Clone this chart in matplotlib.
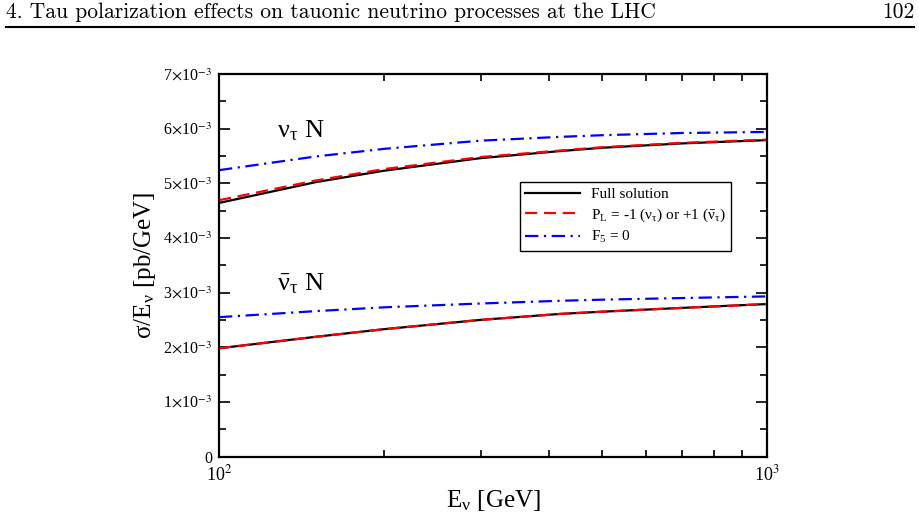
import matplotlib
matplotlib.use("Agg")
import matplotlib.pyplot as plt
from matplotlib.ticker import FixedLocator, FuncFormatter, MultipleLocator
import numpy as np

plt.rcParams['font.family'] = ['Liberation Serif', 'DejaVu Serif']
plt.rcParams['mathtext.fontset'] = 'stix'

energy = [100, 150, 200, 300, 420, 500, 700, 1000]
nu_full = [4.64e-3, 5.02e-3, 5.23e-3, 5.46e-3, 5.59e-3, 5.65e-3, 5.73e-3, 5.79e-3]
nu_pl = [4.69e-3, 5.05e-3, 5.26e-3, 5.48e-3, 5.60e-3, 5.66e-3, 5.74e-3, 5.80e-3]
nu_f5 = [5.24e-3, 5.49e-3, 5.63e-3, 5.78e-3, 5.85e-3, 5.88e-3, 5.92e-3, 5.94e-3]
nubar_full = [1.98e-3, 2.19e-3, 2.33e-3, 2.50e-3, 2.61e-3, 2.65e-3, 2.72e-3, 2.79e-3]
nubar_pl = [1.98e-3, 2.19e-3, 2.33e-3, 2.50e-3, 2.61e-3, 2.65e-3, 2.72e-3, 2.79e-3]
nubar_f5 = [2.55e-3, 2.66e-3, 2.73e-3, 2.80e-3, 2.85e-3, 2.87e-3, 2.90e-3, 2.93e-3]
ytick_vals = [0, 1e-3, 2e-3, 3e-3, 4e-3, 5e-3, 6e-3, 7e-3]

fig = plt.figure(figsize=(9.2, 5.16), dpi=100)
ax = fig.add_axes([0.238, 0.1153, 0.596, 0.7413])

lw = 1.6
red_dash = (5.5, 3)
blue_dash = (6, 2.5, 1, 2.5)
ax.plot(energy, nu_full, color='black', lw=lw, label='Full solution')
ax.plot(energy, nu_pl, color='#ff0000', lw=lw, dashes=red_dash,
        label=r'P$_\mathregular{L}$ = -1 (ν$_\mathregular{τ}$) or +1 ($\bar{\mathregular{ν}}_\mathregular{τ}$)')
ax.plot(energy, nu_f5, color='#0000ff', lw=lw, dashes=blue_dash, label=r'F$_\mathregular{5}$ = 0')
ax.plot(energy, nubar_full, color='black', lw=lw)
ax.plot(energy, nubar_pl, color='#ff0000', lw=lw, dashes=red_dash)
ax.plot(energy, nubar_f5, color='#0000ff', lw=lw, dashes=blue_dash)

ax.set_xscale('log')
ax.set_xlim(100, 1000)
ax.set_ylim(0, 7e-3)

ax.xaxis.set_major_locator(FixedLocator([100, 1000]))
ax.xaxis.set_minor_locator(FixedLocator([200, 300, 400, 500, 600, 700, 800, 900]))
ax.xaxis.set_major_formatter(FuncFormatter(lambda v, p: r'10$^{%d}$' % round(np.log10(v))))
ax.xaxis.set_minor_formatter(FuncFormatter(lambda v, p: ''))

ax.yaxis.set_major_locator(FixedLocator(ytick_vals))
ax.yaxis.set_minor_locator(MultipleLocator(0.5e-3))

def yfmt(v, p):
    n = int(round(v * 1e3))
    if n == 0:
        return '0'
    return r'%d$\times$10$^{-3}$' % n
ax.yaxis.set_major_formatter(FuncFormatter(yfmt))

ax.tick_params(which='both', direction='in', top=True, right=True, width=1.2)
ax.tick_params(axis='y', labelsize=11.5, pad=5)
ax.tick_params(axis='x', labelsize=13, pad=6)
ax.tick_params(which='major', length=8)
ax.tick_params(which='minor', length=5)
for s in ax.spines.values():
    s.set_linewidth(1.6)

ax.set_xlabel(r'E$_\mathregular{ν}$ [GeV]', fontsize=18, labelpad=2)
ax.set_ylabel(r'σ/E$_\mathregular{ν}$ [pb/GeV]', fontsize=18, labelpad=4)

ax.text(0.105, 0.835, r'ν$_\mathregular{τ}$ N', transform=ax.transAxes, fontsize=19)
ax.text(0.105, 0.435, r'$\bar{\mathregular{ν}}_\mathregular{τ}$ N', transform=ax.transAxes, fontsize=19)

leg = ax.legend(loc='upper left', bbox_to_anchor=(0.549, 0.717), fontsize=11,
                frameon=True, fancybox=False, edgecolor='black', framealpha=1,
                handlelength=3.6, handletextpad=0.7, borderpad=0.35, labelspacing=0.35,
                borderaxespad=0)
leg.get_frame().set_linewidth(1.0)

hdr_font = ['cmr10', 'DejaVu Serif']
fig.text(0.006, 0.976, '4. Tau polarization effects on tauonic neutrino processes at the LHC',
         fontsize=15.5, family=hdr_font, va='center', ha='left')
fig.text(0.994, 0.976, '102', fontsize=15.5, family=hdr_font, va='center', ha='right')
fig.add_artist(plt.Line2D([0.006, 0.994], [0.947, 0.947], color='black', lw=1.5,
                          transform=fig.transFigure))

fig.savefig('out.png', dpi=100)
